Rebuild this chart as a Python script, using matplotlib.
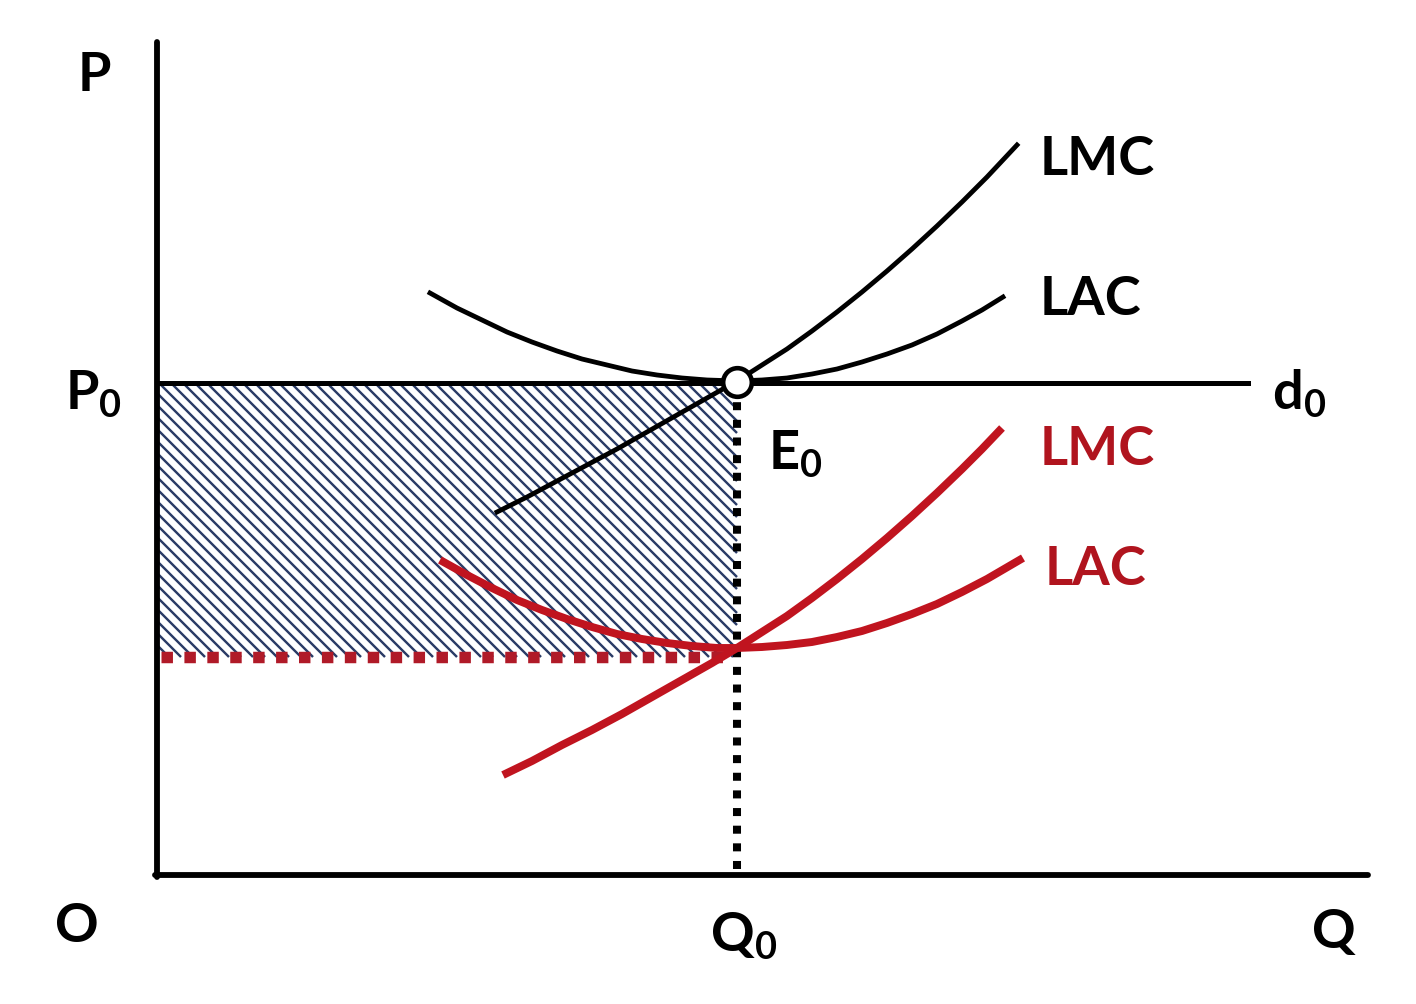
import numpy as np
import matplotlib
matplotlib.use("Agg")
import matplotlib.pyplot as plt
from matplotlib.collections import LineCollection

# 字体设置 (Calibri 风格, 用 Lato 粗体代替)
plt.rcParams['font.family'] = ['Lato', 'DejaVu Sans']
plt.rcParams['font.weight'] = 'bold'
plt.rcParams['mathtext.fontset'] = 'custom'
plt.rcParams['mathtext.rm'] = 'Lato:bold'
plt.rcParams['mathtext.it'] = 'Lato:bold'
plt.rcParams['mathtext.bf'] = 'Lato:bold'

# 均衡点
P0 = 4.92
Q0 = 5.80
P_low = 2.18      # 新的最低平均成本

# 原来的长期成本曲线 (黑色)
lac_x = [2.73, 3.00, 3.25, 3.50, 3.75, 4.00, 4.25, 4.50, 4.75, 5.00, 5.25, 5.50,
         5.80, 6.05, 6.30, 6.55, 6.80, 7.05, 7.30, 7.55, 7.80, 8.05, 8.25, 8.46]
lac_y = [5.82, 5.67, 5.55, 5.43, 5.33, 5.24, 5.16, 5.10, 5.04, 5.00, 4.97, 4.95,
         4.94, 4.95, 4.97, 5.01, 5.06, 5.13, 5.21, 5.30, 5.41, 5.54, 5.65, 5.78]
lmc_x = [3.40, 3.70, 4.00, 4.30, 4.60, 4.90, 5.20, 5.50, 5.80, 6.05,
         6.30, 6.55, 6.80, 7.05, 7.30, 7.55, 7.80, 8.05, 8.30, 8.60]
lmc_y = [3.63, 3.78, 3.94, 4.10, 4.26, 4.43, 4.60, 4.77, 4.94, 5.10,
         5.26, 5.44, 5.63, 5.83, 6.04, 6.26, 6.49, 6.73, 6.98, 7.30]

# 技术进步后的成本曲线 (红色)
lac2_x = [2.83, 3.10, 3.35, 3.60, 3.85, 4.10, 4.35, 4.60, 4.85, 5.10, 5.35, 5.60,
          5.80, 6.05, 6.30, 6.55, 6.80, 7.05, 7.30, 7.55, 7.80, 8.05, 8.30, 8.66]
lac2_y = [3.15, 3.00, 2.87, 2.75, 2.65, 2.56, 2.48, 2.41, 2.36, 2.32, 2.29, 2.27,
          2.27, 2.28, 2.30, 2.33, 2.38, 2.44, 2.52, 2.61, 2.71, 2.83, 2.96, 3.17]
lmc2_x = [3.46, 3.75, 4.05, 4.35, 4.65, 4.95, 5.25, 5.55, 5.80, 6.05,
          6.30, 6.55, 6.80, 7.05, 7.30, 7.55, 7.80, 8.05, 8.25, 8.45]
lmc2_y = [1.00, 1.14, 1.30, 1.45, 1.61, 1.78, 1.95, 2.12, 2.27, 2.43,
          2.59, 2.77, 2.96, 3.16, 3.37, 3.59, 3.82, 4.06, 4.26, 4.47]

d0_end = 10.91
x_axis_end = 12.11
y_axis_end = 8.33

red = '#c0141f'
red_txt = '#b0141e'
dot_red = '#b01a28'
hatch_col = '#2a3b66'

# 75 dpi -> 1 pt ~ 1 px
fig = plt.figure(figsize=(1416 / 75, 1004 / 75), dpi=75)
ax = fig.add_axes([0, 0, 1, 1])
ax.set_xlim(-1.57, 12.59)
ax.set_ylim(-1.29, 8.75)
ax.axis('off')

# 阴影区域 (利润): 斜线 x + y = c, 截在矩形 [0,Q0] x [P_low,P0] 内
c = np.arange(P_low, Q0 + P0, 0.12)
x1 = np.maximum(0, c - P0)
x2 = np.minimum(Q0, c - P_low)
ok = x1 < x2
segs = [[(a, cc - a), (b, cc - b)] for a, b, cc in zip(x1[ok], x2[ok], c[ok])]
ax.add_collection(LineCollection(segs, colors=hatch_col, linewidths=2.3,
                                 capstyle='butt', zorder=2))

# 坐标轴
ax.plot([0, 0], [-0.02, y_axis_end], color='black', lw=5.6,
        solid_capstyle='round', zorder=5)
ax.plot([-0.02, x_axis_end], [0, 0], color='black', lw=5.6,
        solid_capstyle='round', zorder=5)

# 需求线 d0
ax.plot([0, d0_end], [P0, P0], color='black', lw=4.8, zorder=4)

# 虚线
ax.plot([Q0, Q0], [0.06, P0 - 0.14], color='black', lw=7.7,
        linestyle=(0, (1.0, 1.2)), dash_capstyle='butt', zorder=3)
ax.plot([0.04, Q0 - 0.05], [P_low, P_low], color=dot_red, lw=11,
        linestyle=(0, (1.0, 1.0)), dash_capstyle='butt', zorder=3)

# 曲线
ax.plot(lac_x, lac_y, color='black', lw=4.6, solid_joinstyle='round', zorder=4)
ax.plot(lmc_x, lmc_y, color='black', lw=4.6, solid_joinstyle='round', zorder=4)
ax.plot(lac2_x, lac2_y, color=red, lw=7.6, solid_joinstyle='round',
        solid_capstyle='butt', zorder=4)
ax.plot(lmc2_x, lmc2_y, color=red, lw=7.6, solid_joinstyle='round',
        solid_capstyle='butt', zorder=4)

# 均衡点 E0
ax.plot([Q0], [P0 + 0.01], marker='o', markersize=27.5, markerfacecolor='white',
        markeredgecolor='black', markeredgewidth=4.4, zorder=6)

# 文字标签
fs = 52
ax.text(-0.63, 7.84, 'P', fontsize=fs, ha='center', va='baseline')
ax.text(-0.92, 4.65, 'P$_0$', fontsize=fs, ha='left', va='baseline')
ax.text(-0.80, -0.67, 'O', fontsize=fs, ha='center', va='baseline')
ax.text(5.53, -0.77, 'Q$_0$', fontsize=fs, ha='left', va='baseline')
ax.text(11.55, -0.73, 'Q', fontsize=fs, ha='left', va='baseline')
ax.text(6.11, 4.05, 'E$_0$', fontsize=fs, ha='left', va='baseline')
ax.text(11.15, 4.65, 'd$_0$', fontsize=fs, ha='left', va='baseline')
ax.text(8.83, 7.00, 'LMC', fontsize=fs, ha='left', va='baseline')
ax.text(8.83, 5.60, 'LAC', fontsize=fs, ha='left', va='baseline')
ax.text(8.83, 4.10, 'LMC', fontsize=fs, ha='left', va='baseline', color=red_txt)
ax.text(8.88, 2.90, 'LAC', fontsize=fs, ha='left', va='baseline', color=red_txt)

fig.savefig('out.png', dpi=75, facecolor='white')
